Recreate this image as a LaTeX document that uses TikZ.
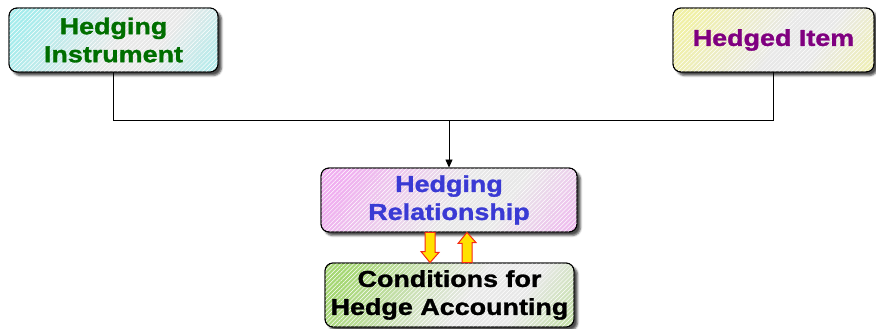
\documentclass[tikz,border=0pt]{standalone}
\usepackage{fontspec}
\newfontfamily\lbl{Liberation Sans}[FakeStretch=1.17,FakeBold=1.3]
\usetikzlibrary{shadows.blur,patterns.meta,arrows.meta,calc}

\definecolor{instrC}{RGB}{165,236,236}
\definecolor{itemC}{RGB}{240,240,165}
\definecolor{relC}{RGB}{240,175,240}
\definecolor{condC}{RGB}{165,215,115}
\definecolor{midC}{RGB}{232,232,232}
\definecolor{txtGreen}{RGB}{0,110,0}
\definecolor{txtPurple}{RGB}{128,0,128}
\definecolor{txtBlue}{RGB}{58,58,212}
\definecolor{arrY}{RGB}{255,225,0}
\definecolor{arrR}{RGB}{245,40,20}

% colour at the left and lower right, grey band towards the upper right
\pgfdeclarehorizontalshading{instrShade}{100bp}{color(0bp)=(instrC); color(22bp)=(instrC); color(52bp)=(midC); color(64bp)=(midC); color(84bp)=(instrC!85!midC); color(100bp)=(instrC!85!midC)}
\pgfdeclarehorizontalshading{itemShade}{100bp}{color(0bp)=(itemC); color(22bp)=(itemC); color(52bp)=(midC); color(64bp)=(midC); color(84bp)=(itemC!85!midC); color(100bp)=(itemC!85!midC)}
\pgfdeclarehorizontalshading{relShade}{100bp}{color(0bp)=(relC); color(22bp)=(relC); color(52bp)=(midC); color(64bp)=(midC); color(84bp)=(relC!85!midC); color(100bp)=(relC!85!midC)}
\pgfdeclarehorizontalshading{condShade}{100bp}{color(0bp)=(condC); color(22bp)=(condC); color(55bp)=(midC); color(68bp)=(midC); color(84bp)=(condC!60!midC); color(100bp)=(condC!60!midC)}

\tikzset{
  card/.style={draw=black, line width=0.9pt, rounded corners=8pt,
    minimum height=64pt, align=center, inner sep=2pt,
    font=\lbl\bfseries\fontsize{23}{28}\selectfont,
    shading angle=-33,
    blur shadow={shadow xshift=3.5pt, shadow yshift=-3.5pt, shadow blur steps=4, shadow blur radius=2pt, shadow opacity=70},
    postaction={pattern={Lines[angle=45,distance=3pt,line width=0.5pt]}, pattern color=white, fill opacity=0.2},
    postaction={draw=black, line width=0.9pt}},
  link/.style={draw=black, line width=0.8pt},
  blockarrow/.style={draw=arrR, line width=1pt, left color=arrY, middle color=yellow!35!white, right color=arrY, line join=miter}
}

\begin{document}
\begin{tikzpicture}[x=1pt, y=-1pt]
  \useasboundingbox (0,0) rectangle (876,329);

  \node[card, minimum width=209pt, shading=instrShade, text=txtGreen] (hi) at (113.5,40) {Hedging\\Instrument};
  \node[card, minimum width=201pt, shading=itemShade, text=txtPurple] (item) at (773.5,40) {Hedged Item};
  \node[card, minimum width=256pt, shading=relShade, text=txtBlue] (rel) at (449,200) {Hedging\\Relationship};
  \node[card, minimum width=249pt, shading=condShade, text=black] (cond) at (449.5,295) {Conditions for\\Hedge Accounting};

  % bus joining the two inputs, feeding the relationship
  \coordinate (bus) at (0,120);
  \draw[link] (hi.south) |- (bus -| item.south) -- (item.south);
  \draw[link, -{Triangle[length=8pt,width=7pt]}] (bus -| rel.north) -- (rel.north);

  % two-way block arrows between relationship and conditions
  \coordinate (dn) at ($(rel.south)+(-19,0)$);
  \coordinate (up) at ($(rel.south)+(18,0)$);
  \draw[blockarrow] (dn |- rel.south) ++(-5,0) -- ++(10,0) -- ++(0,20) -- ++(4,0)
        -- (dn |- cond.north) -- ++(-9,-11) -- ++(4,0) -- cycle;
  \draw[blockarrow] (up |- cond.north) ++(-5,0) -- ++(10,0) -- ++(0,-20) -- ++(4,0)
        -- (up |- rel.south) -- ++(-9,11) -- ++(4,0) -- cycle;
\end{tikzpicture}
\end{document}
